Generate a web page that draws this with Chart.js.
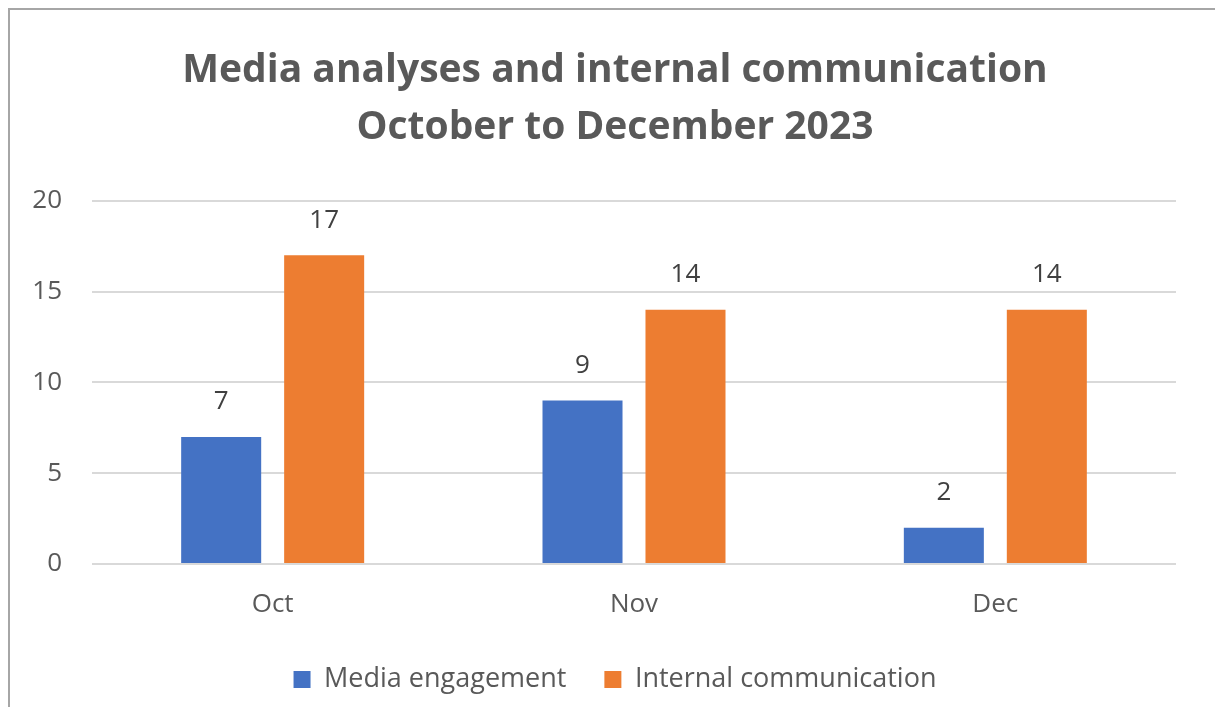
<!DOCTYPE html>
<html>
<head>
<meta charset="utf-8">
<script src="https://cdn.jsdelivr.net/npm/chart.js@4.4.1/dist/chart.umd.min.js"></script>
<style>
  html, body { margin: 0; padding: 0; background: #fff; }
  #wrap { width: 1215px; height: 707px; }
</style>
</head>
<body>
<div id="wrap"><canvas id="chart" width="1215" height="707"></canvas></div>
<script>
// chart data
const months = ['Oct', 'Nov', 'Dec'];
const mediaEngagement = [7, 9, 2];
const internalCommunication = [17, 14, 14];
const titleLines = ['Media analyses and internal communication', 'October to December 2023'];

const textGray = '#595959';
const font = '"Open Sans", sans-serif';

// frame around the whole chart
const framePlugin = {
  id: 'frame',
  beforeDraw(chart) {
    const ctx = chart.ctx;
    ctx.save();
    ctx.fillStyle = '#fff';
    ctx.fillRect(0, 0, chart.width, chart.height);
    ctx.strokeStyle = '#a6a6a6';
    ctx.lineWidth = 2;
    ctx.strokeRect(9, 9, chart.width + 10, chart.height + 10);
    ctx.restore();
  }
};

// value labels above each bar
const valueLabels = {
  id: 'valueLabels',
  afterDatasetsDraw(chart) {
    const ctx = chart.ctx;
    ctx.save();
    ctx.font = '26px ' + font;
    ctx.fillStyle = '#404040';
    ctx.textAlign = 'center';
    ctx.textBaseline = 'middle';
    chart.data.datasets.forEach((ds, i) => {
      chart.getDatasetMeta(i).data.forEach((bar, j) => {
        ctx.fillText(ds.data[j], bar.x, bar.y - 35);
      });
    });
    ctx.restore();
  }
};

new Chart(document.getElementById('chart'), {
  type: 'bar',
  data: {
    labels: months,
    datasets: [
      { label: 'Media engagement', data: mediaEngagement, backgroundColor: '#4472C4' },
      { label: 'Internal communication', data: internalCommunication, backgroundColor: '#ED7D31' }
    ]
  },
  options: {
    responsive: false,
    animation: false,
    devicePixelRatio: 1,
    layout: { padding: { left: 15, right: 0, top: 0, bottom: 4 } },
    datasets: { bar: { categoryPercentage: 0.57, barPercentage: 0.777 } },
    plugins: {
      title: {
        display: true,
        text: titleLines,
        color: textGray,
        font: { family: font, size: 39, weight: 'bold', lineHeight: 1.46 },
        padding: { top: 42, bottom: 45 }
      },
      legend: {
        position: 'bottom',
        labels: {
          color: textGray,
          font: { family: font, size: 27 },
          boxWidth: 17,
          boxHeight: 17,
          padding: 38
        }
      },
      tooltip: { enabled: false }
    },
    scales: {
      x: {
        grid: { display: false, tickLength: 18 },
        border: { display: false },
        ticks: { color: textGray, font: { family: font, size: 26 }, padding: 7.4 }
      },
      y: {
        min: 0,
        max: 20,
        afterFit(scale) { scale.width = 77; },
        grid: { color: '#d9d9d9', lineWidth: 2, drawTicks: false },
        border: { display: false },
        ticks: { stepSize: 5, color: textGray, font: { family: font, size: 26 }, padding: 30 }
      },
      // empty right-hand axis, only keeps space at the right edge
      yRight: {
        position: 'right',
        afterFit(scale) { scale.width = 39; },
        grid: { display: false },
        border: { display: false },
        ticks: { display: false }
      }
    }
  },
  plugins: [framePlugin, valueLabels]
});
</script>
</body>
</html>
